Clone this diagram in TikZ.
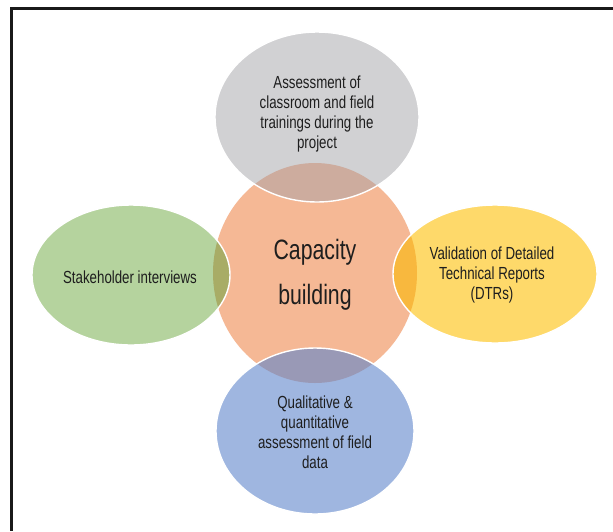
\documentclass[tikz,border=0pt]{standalone}
\usepackage{fontspec}
\setmainfont{Liberation Sans}[FakeStretch=0.76]
\usetikzlibrary{shapes.geometric}

\definecolor{coreorange}{RGB}{245,184,149}
\definecolor{satgray}{RGB}{209,209,211}
\definecolor{satgreen}{RGB}{181,211,158}
\definecolor{satyellow}{RGB}{254,217,106}
\definecolor{satblue}{RGB}{159,182,224}
\definecolor{mixgray}{RGB}{205,172,158}
\definecolor{mixgreen}{RGB}{168,172,102}
\definecolor{mixyellow}{RGB}{248,184,62}
\definecolor{mixblue}{RGB}{153,153,182}
\definecolor{inktext}{RGB}{30,30,30}

\tikzset{
  ringtext/.style={text=inktext, align=center, inner sep=0pt,
    font=\fontsize{17.5}{20}\selectfont},
  coretext/.style={text=inktext, align=center, inner sep=0pt,
    font=\fontsize{28}{45}\selectfont},
  rim/.style={draw=white, line width=1.4pt},
  frameline/.style={draw=black!90, line width=2.4pt}
}

\begin{document}
\begin{tikzpicture}[x=1pt,y=-1pt]
\useasboundingbox (0,0) rectangle (613,531);
\fill[white] (0,0) rectangle (613,531);

% outer frame (left and top edges)
\draw[frameline] (613,8.5) -- (11.5,8.5) -- (11.5,531);

% centre circle
\fill[coreorange] (315,273) ellipse [x radius=102, y radius=110];

% surrounding ellipses
\fill[satgray]   (317,117) ellipse [x radius=102, y radius=85];
\fill[satgreen]  (131,275) ellipse [x radius=99,  y radius=70];
\fill[satyellow] (495,274) ellipse [x radius=102, y radius=69];
\fill[satblue]   (315,431) ellipse [x radius=99,  y radius=83];

% overlaps with the centre circle
\begin{scope}
  \clip (315,273) ellipse [x radius=102, y radius=110];
  \fill[mixgray]   (317,117) ellipse [x radius=102, y radius=85];
  \fill[mixgreen]  (131,275) ellipse [x radius=99,  y radius=70];
  \fill[mixyellow] (495,274) ellipse [x radius=102, y radius=69];
  \fill[mixblue]   (315,431) ellipse [x radius=99,  y radius=83];
\end{scope}

% white rims of the surrounding ellipses
\draw[rim] (317,117) ellipse [x radius=102, y radius=85];
\draw[rim] (131,275) ellipse [x radius=99,  y radius=70];
\draw[rim] (495,274) ellipse [x radius=102, y radius=69];
\draw[rim] (315,431) ellipse [x radius=99,  y radius=83];

% labels
\node[coretext] (core) at (315,275) {Capacity\\building};
\node[ringtext] (train) at (317,114) {Assessment of\\classroom and field\\trainings during the\\project};
\node[ringtext] (stake) at (130,277) {Stakeholder interviews};
\node[ringtext] (dtr) at (492,275) {Validation of Detailed\\Technical Reports\\(DTRs)};
\node[ringtext] (field) at (315,432) {Qualitative \&\\quantitative\\assessment of field\\data};
\end{tikzpicture}
\end{document}
